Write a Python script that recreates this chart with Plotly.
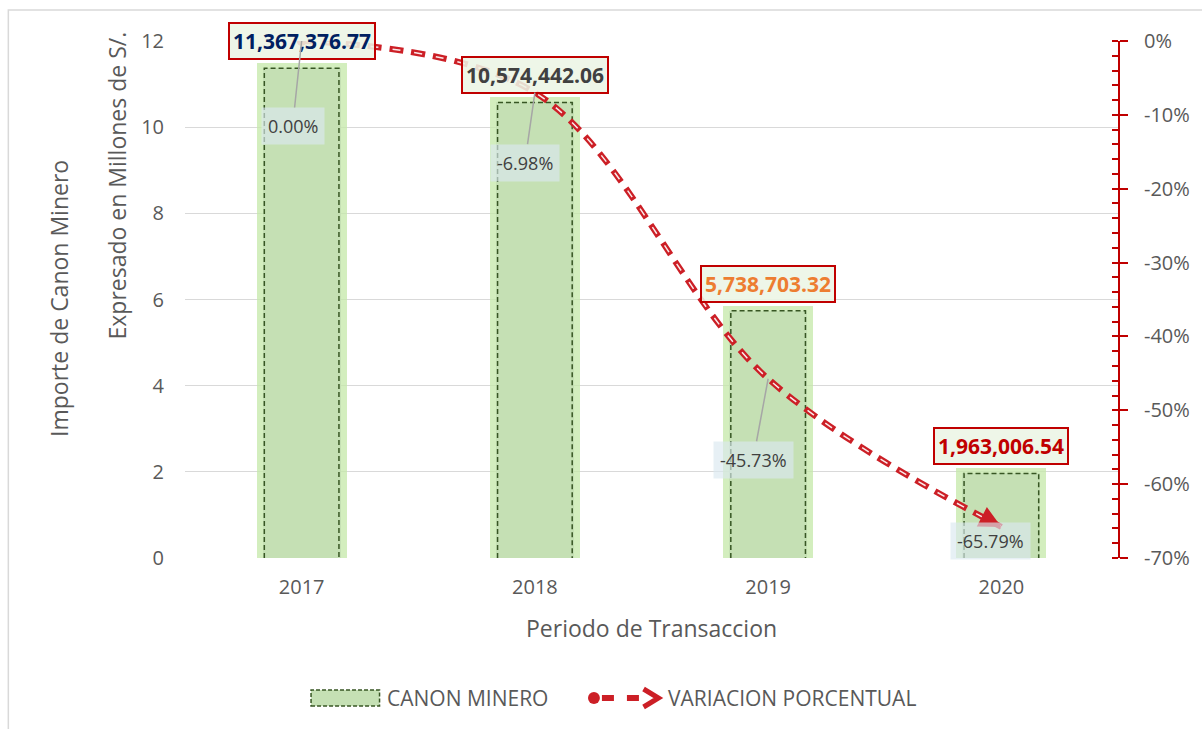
import math
import plotly.graph_objects as go

# ---------------- data ----------------
years = ["2017", "2018", "2019", "2020"]
canon_millones = [11.36737677, 10.57444206, 5.73870332, 1.96300654]
canon_labels = ["11,367,376.77", "10,574,442.06", "5,738,703.32", "1,963,006.54"]
label_colors = ["#002060", "#404040", "#ED7D31", "#C00000"]
variacion = [0.0, -0.0698, -0.4573, -0.6579]
variacion_labels = ["0.00%", "-6.98%", "-45.73%", "-65.79%"]
y_ticks = [0, 2, 4, 6, 8, 10, 12]
y2_ticks = [0, -0.1, -0.2, -0.3, -0.4, -0.5, -0.6, -0.7]
y2_ticktext = ["0%", "-10%", "-20%", "-30%", "-40%", "-50%", "-60%", "-70%"]

# ---------------- layout geometry (pixels) ----------------
W, H = 1202, 729
L, R, T, B = 185, 1125, 41, 558
PW, PH = R - L, B - T
Y2_MIN, Y2_MAX = -0.7, 0.0


def px(x):
    return (x - L) / PW


def py(y):
    return (B - y) / PH


xs = list(range(len(years)))
RED = "#CC1F26"
GRAY_TXT = "#595959"
FONT = "Open Sans"

fig = go.Figure()

# glow behind bars
glow_extra = 5 / (PH / 12.0)
fig.add_trace(go.Bar(
    x=xs, y=[v + glow_extra for v in canon_millones], width=0.385,
    marker=dict(color="rgba(196,232,168,0.75)", line=dict(width=0)),
    hoverinfo="skip", showlegend=False))
fig.add_trace(go.Bar(
    x=xs, y=canon_millones, width=0.335,
    marker=dict(color="#C5E0B4", line=dict(width=0)),
    name="CANON MINERO", showlegend=False))

# dashed outline of bars
hw = 0.16
ox, oy = [], []
for i, v in zip(xs, canon_millones):
    ox += [i - hw, i - hw, i + hw, i + hw, None]
    oy += [0, v, v, 0, None]
fig.add_trace(go.Scatter(
    x=ox, y=oy, mode="lines", line=dict(color="#375623", width=1.5, dash="5px,3px"),
    hoverinfo="skip", showlegend=False))

# percentage line (compound red/white dashed line)
fig.add_trace(go.Scatter(
    x=xs, y=variacion, yaxis="y2", mode="lines",
    line=dict(color=RED, width=6, dash="14px,8px", shape="spline", smoothing=1),
    name="VARIACION PORCENTUAL", showlegend=False))
fig.add_trace(go.Scatter(
    x=xs, y=variacion, yaxis="y2", mode="lines",
    line=dict(color="rgba(255,255,255,0.9)", width=1.5, dash="0px,3px,8px,11px",
              shape="spline", smoothing=1),
    hoverinfo="skip", showlegend=False))
# begin marker (circle)
fig.add_trace(go.Scatter(
    x=[xs[0]], y=[variacion[0]], yaxis="y2", mode="markers",
    marker=dict(symbol="circle", size=10, color=RED, line=dict(width=0)),
    hoverinfo="skip", showlegend=False))

annotations = []

# end arrowhead, direction from the last segment (screen pixels), flattened a bit by the spline
seg_dx = PW / len(xs)
seg_dy = (variacion[-2] - variacion[-1]) / (Y2_MAX - Y2_MIN) * PH
ang = math.atan2(seg_dy, seg_dx) - math.radians(5)
shaft = 14
annotations.append(dict(
    x=xs[-1], y=variacion[-1], xref="x", yref="y2",
    ax=-shaft * math.cos(ang), ay=-shaft * math.sin(ang),
    showarrow=True, arrowhead=2, arrowsize=1.1, arrowwidth=4, arrowcolor=RED,
    standoff=0, text=""))

# value labels above bars
for i, v, t, c in zip(xs, canon_millones, canon_labels, label_colors):
    annotations.append(dict(
        x=i, y=v, xref="x", yref="y", yshift=27, showarrow=False,
        text="<b>" + t + "</b>", font=dict(family=FONT, size=21, color=c),
        bgcolor="rgba(236,245,229,0.88)", bordercolor="#C00000", borderwidth=2,
        borderpad=3))

# percentage labels with leader lines
offsets = [(-9, 85), (-10, 70), (-15, 81), (-11, 14)]
for i, p, t, (ax, ay) in zip(xs, variacion, variacion_labels, offsets):
    annotations.append(dict(
        x=i, y=p, xref="x", yref="y2", ax=ax, ay=ay, showarrow=True,
        arrowhead=0, arrowwidth=1.5, arrowcolor="#A6A6A6", standoff=0,
        text=t, font=dict(family=FONT, size=18, color="#404040"),
        bgcolor="rgba(218,232,240,0.65)", borderpad=6))


def text_ann(x, y, text, size, angle=0, xanchor="center"):
    return dict(x=px(x), y=py(y), xref="paper", yref="paper", showarrow=False,
                textangle=angle, xanchor=xanchor, yanchor="middle", text=text,
                font=dict(family=FONT, size=size, color=GRAY_TXT))


# axis titles
annotations.append(text_ann(58, 298, "Importe de Canon Minero", 23, -90))
annotations.append(text_ann(116, 186, "Expresado en Millones de S/.", 23, -90))
annotations.append(text_ann(655, 628, "Periodo de Transaccion", 23))

# custom legend
LY = 698
annotations.append(text_ann(386, LY, "CANON MINERO", 21, xanchor="left"))
annotations.append(text_ann(670, LY, "VARIACION PORCENTUAL", 21, xanchor="left"))

shapes = [
    # outer chart border
    dict(type="rect", xref="paper", yref="paper", x0=px(7), x1=px(1240), y0=py(10), y1=py(760),
         line=dict(color="#D9D9D9", width=1.5), fillcolor="rgba(0,0,0,0)", layer="below"),
    # legend bar swatch
    dict(type="rect", xref="paper", yref="paper", x0=px(312), x1=px(381), y0=py(706), y1=py(690),
         fillcolor="#C5E0B4", line=dict(color="#375623", width=1.5, dash="4px,2px")),
    # legend line swatch
    dict(type="line", xref="paper", yref="paper", x0=px(597), x1=px(650), y0=py(LY), y1=py(LY),
         line=dict(color=RED, width=6, dash="0px,8px,12px,5px")),
    dict(type="circle", xref="paper", yref="paper", x0=px(591), x1=px(603), y0=py(LY + 6), y1=py(LY - 6),
         fillcolor=RED, line=dict(width=0)),
    dict(type="path", xref="paper", yref="paper",
         path=f"M {px(647)},{py(LY - 9)} L {px(662)},{py(LY)} L {px(647)},{py(LY + 9)}",
         line=dict(color=RED, width=5)),
]

fig.update_layout(
    width=W, height=H,
    margin=dict(l=L, r=W - R, t=T, b=H - B, pad=0),
    paper_bgcolor="white", plot_bgcolor="white",
    barmode="overlay", bargap=0,
    font=dict(family=FONT, color=GRAY_TXT),
    showlegend=False,
    xaxis=dict(
        range=[-0.5, len(xs) - 0.5], tickmode="array", tickvals=xs, ticktext=years,
        showgrid=False, zeroline=False, showline=False, ticks="",
        tickfont=dict(family=FONT, size=20, color=GRAY_TXT), ticklabelstandoff=15),
    yaxis=dict(
        range=[0, 12], tickmode="array", tickvals=y_ticks,
        showgrid=True, gridcolor="#D9D9D9", gridwidth=1.3, zeroline=False, showline=False,
        ticks="", tickfont=dict(family=FONT, size=20, color=GRAY_TXT), ticklabelstandoff=20),
    yaxis2=dict(
        overlaying="y", side="right", range=[Y2_MIN, Y2_MAX],
        tickmode="array", tickvals=y2_ticks, ticktext=y2_ticktext,
        showgrid=False, zeroline=False, showline=True, linecolor="#C00000", linewidth=2,
        ticks="outside", ticklen=8, tickwidth=2, tickcolor="#C00000",
        minor=dict(tickmode="linear", tick0=0, dtick=0.02, ticks="inside", ticklen=6,
                   tickwidth=1.5, tickcolor="#C00000"),
        tickfont=dict(family=FONT, size=20, color=GRAY_TXT), ticklabelstandoff=12),
    annotations=annotations,
    shapes=shapes,
)

fig.write_html("out.html", config={"displayModeBar": False},
               post_script="document.body.style.margin='0';")
